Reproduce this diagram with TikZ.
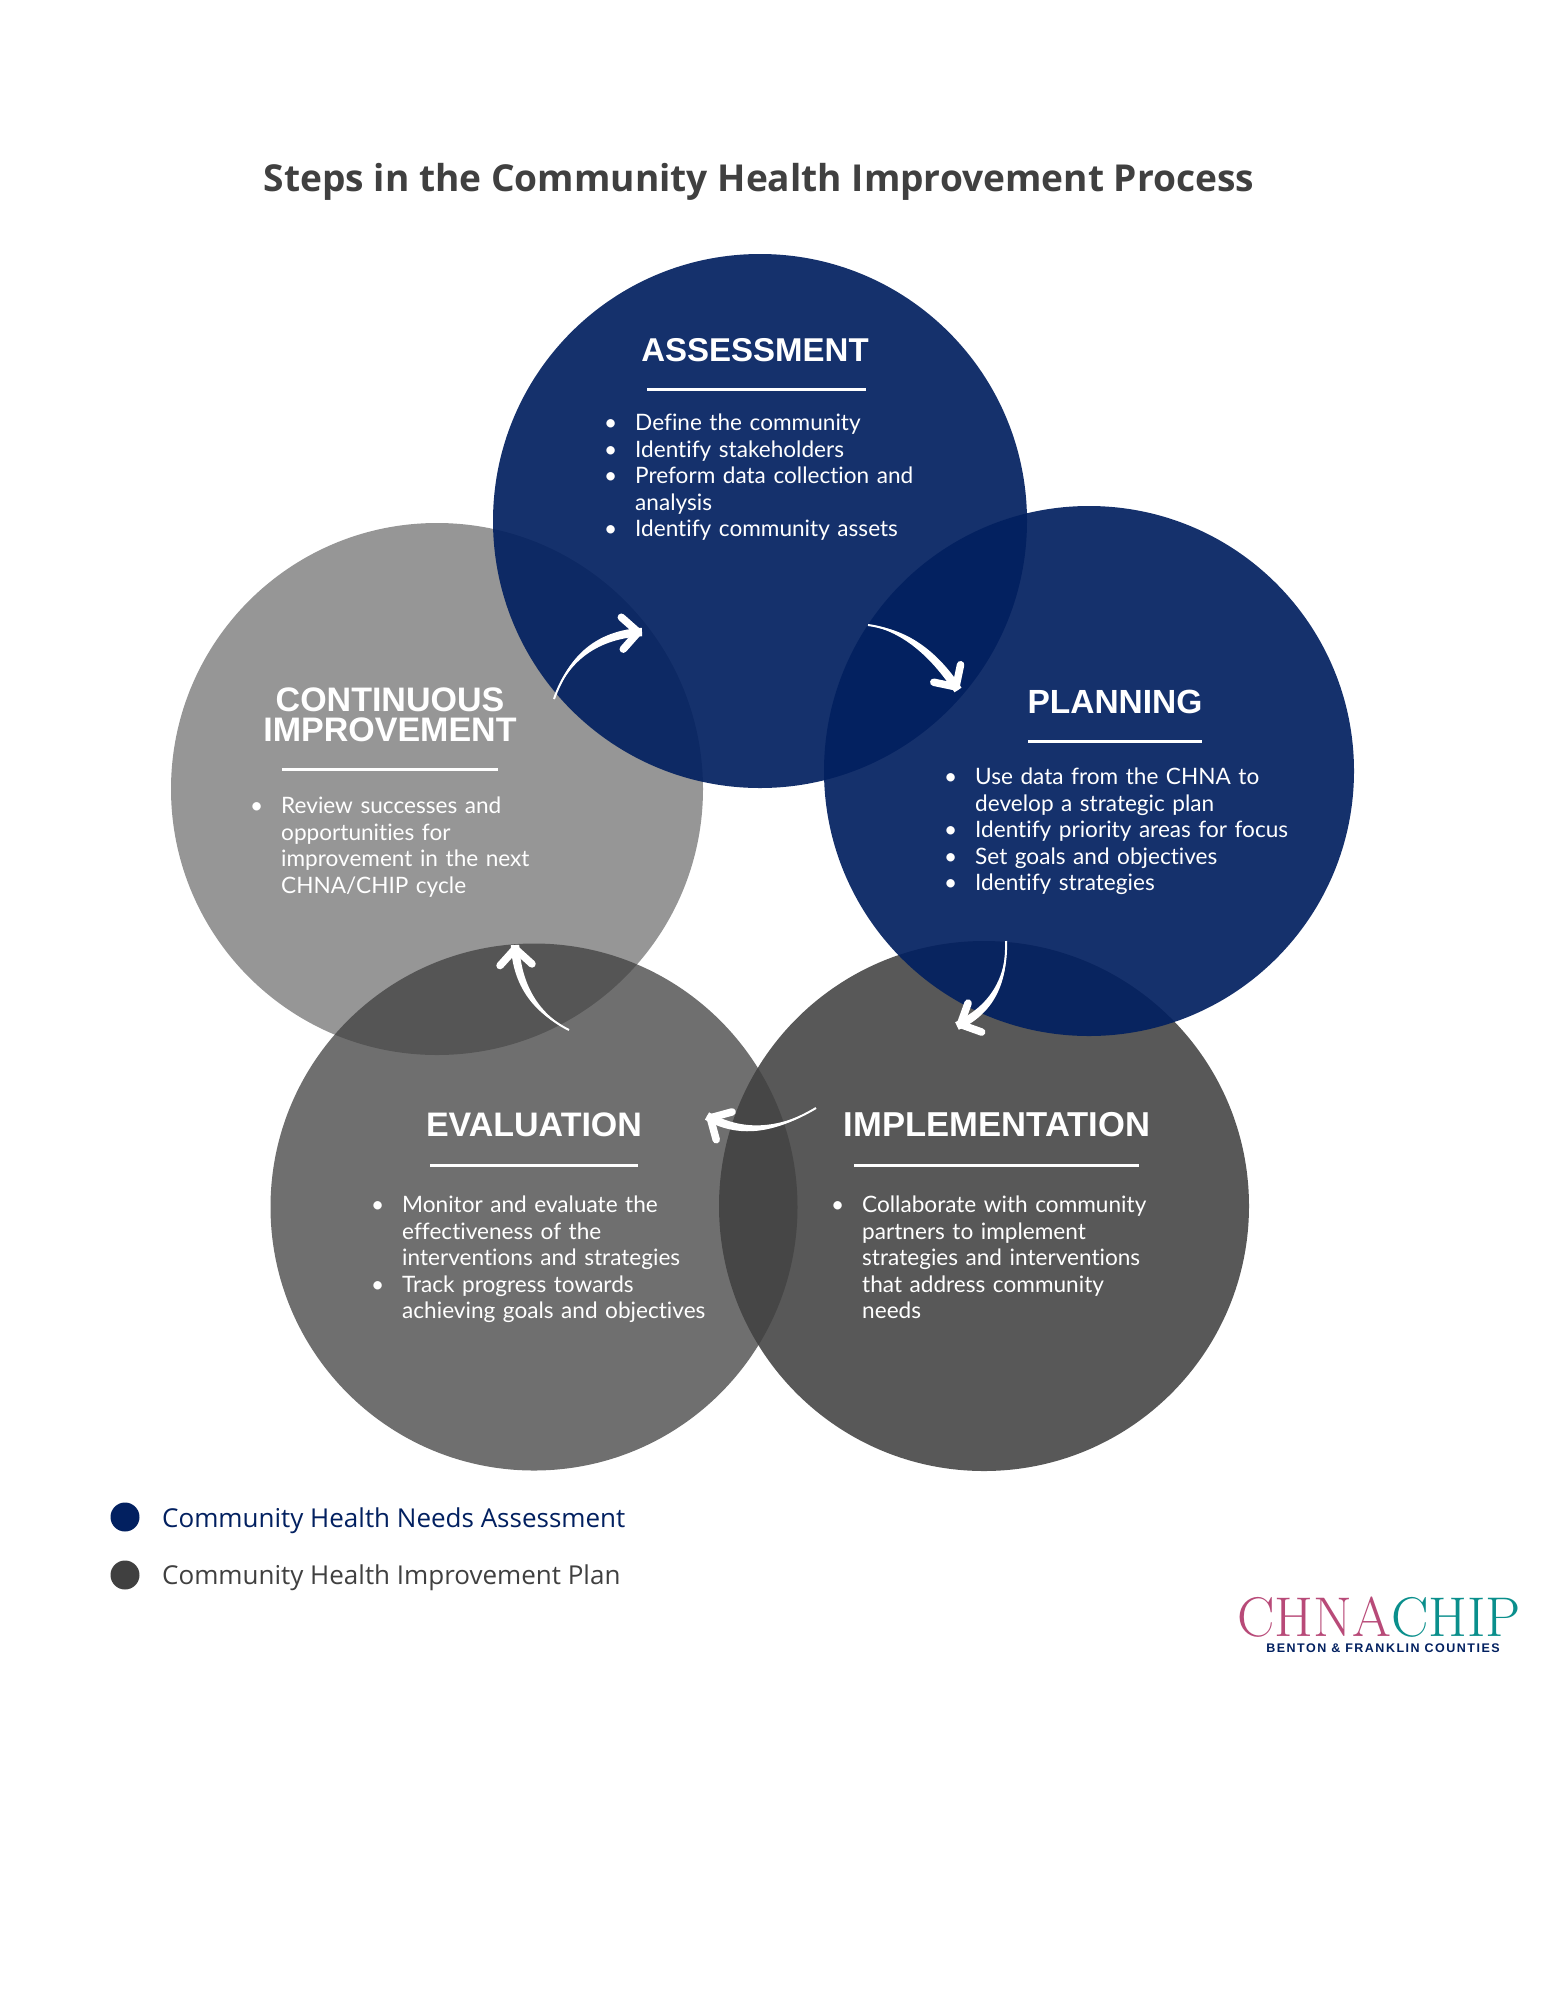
\documentclass[tikz,border=0pt]{standalone}
\usepackage{fontspec}
\setmainfont[Ligatures=NoCommon]{Lato}
\newfontfamily\titlefont{Open Sans}
\newfontfamily\headfont{Liberation Sans}
\newfontfamily\legendfont{Open Sans}
\newfontfamily\logofont{Latin Modern Roman}
\newfontfamily\logosubfont[LetterSpace=12]{Liberation Sans}
\usetikzlibrary{arrows.meta,calc}
\definecolor{chnaNavy}{RGB}{2,32,96}
\definecolor{chipGrey}{RGB}{64,64,64}
\definecolor{logoRose}{RGB}{184,74,120}
\definecolor{logoTeal}{RGB}{10,143,140}

%% bullet line and its continuation line
\newcommand{\stepitem}{\par\noindent\hbox to 31pt{\textbullet\hfil}}
\newcommand{\stepcont}{\par\noindent\hspace*{31pt}}

%% hand-drawn arrow: start, bend, end (the body swells towards the head)
\newcommand{\flowarrow}[3]{
  \coordinate (eL) at ($(#3)!4.2pt!90:(#2)$);
  \coordinate (eR) at ($(#3)!4.2pt!-90:(#2)$);
  \coordinate (cL) at ($(#2)!4.2pt!-90:(#3)$);
  \coordinate (cR) at ($(#2)!4.2pt!90:(#3)$);
  \fill[white] (#1) .. controls ($(#1)!.667!(cL)$) and ($(eL)!.667!(cL)$) .. (eL)
    -- (eR) .. controls ($(eR)!.667!(cR)$) and ($(#1)!.667!(cR)$) .. (#1) -- cycle;
  \draw[flowtip] (#1) .. controls ($(#1)!.667!(#2)$) and ($(#3)!.667!(#2)$) .. (#3);
}

\begin{document}
\begin{tikzpicture}[
  x=1pt, y=-1pt,
  stepcircle/.style={circle, inner sep=0pt, draw=none},
  stephead/.style={font=\headfont\bfseries\fontsize{#1}{30}\selectfont, white, align=center},
  stepbody/.style={font=\fontsize{22.6}{26.5}\selectfont, white, anchor=north west, align=left, inner sep=0pt, text width=420pt},
  steprule/.style={white, line width=3pt},
  flowtip/.style={white, line width=2pt, -{Straight Barb[round, line width=7.5pt, length=16pt, width=32pt]}},
  legenddot/.style={circle, inner sep=0pt, minimum size=29pt},
  legendtext/.style={font=\legendfont\fontsize{26}{30}\selectfont, anchor=west, inner sep=0pt},
]
\useasboundingbox (0,0) rectangle (1545,2000);
\fill[white] (0,0) rectangle (1545,2000);

%% -- title --
\node[font=\titlefont\bfseries\fontsize{37.1}{44}\selectfont, chipGrey] (title) at (759,182)
     {Steps in the Community Health Improvement Process};

%% -- circles (px of the page), grey ones first --
\node[stepcircle, minimum size=532pt, fill=chipGrey, fill opacity=.55] (improve) at (437,789) {};
\node[stepcircle, minimum size=530pt, fill=chipGrey, fill opacity=.87] (implement) at (984,1206) {};
\node[stepcircle, minimum size=527pt, fill=chipGrey, fill opacity=.75] (evaluate) at (534,1207) {};
\node[stepcircle, minimum size=534pt, fill=chnaNavy, fill opacity=.92] (assess) at (760,521) {};
\node[stepcircle, minimum size=530pt, fill=chnaNavy, fill opacity=.92] (plan) at (1089,771) {};

%% -- assessment --
\node[stephead=33] (assessH) at (755,350) {ASSESSMENT};
\draw[steprule] (647,389) -- (866,389);
\node[stepbody] (assessT) at (604,404) {%
  \stepitem Define the community
  \stepitem Identify stakeholders
  \stepitem Preform data collection and
  \stepcont analysis
  \stepitem Identify community assets};

%% -- planning --
\node[stephead=33.5] (planH) at (1115,702) {PLANNING};
\draw[steprule] (1028,741) -- (1202,741);
\node[stepbody] (planT) at (944,758) {%
  \stepitem Use data from the CHNA to
  \stepcont develop a strategic plan
  \stepitem Identify priority areas for focus
  \stepitem Set goals and objectives
  \stepitem Identify strategies};

%% -- implementation --
\node[stephead=34.6] (implementH) at (997,1125) {IMPLEMENTATION};
\draw[steprule] (854,1165) -- (1139,1165);
\node[stepbody] (implementT) at (831,1186) {%
  \stepitem Collaborate with community
  \stepcont partners to implement
  \stepcont strategies and interventions
  \stepcont that address community
  \stepcont needs};

%% -- evaluation --
\node[stephead=34] (evaluateH) at (534,1125) {EVALUATION};
\draw[steprule] (430,1165) -- (638,1165);
\node[stepbody] (evaluateT) at (371,1186) {%
  \stepitem Monitor and evaluate the
  \stepcont effectiveness of the
  \stepcont interventions and strategies
  \stepitem Track progress towards
  \stepcont achieving goals and objectives};

%% -- continuous improvement --
\node[stephead=34] (improveH) at (390,715) {CONTINUOUS\\IMPROVEMENT};
\draw[steprule] (282,769) -- (498,769);
\node[stepbody] (improveT) at (250,787) {%
  \stepitem Review successes and
  \stepcont opportunities for
  \stepcont improvement in the next
  \stepcont CHNA/CHIP cycle};

%% -- arrows between the steps --
\coordinate (a1) at (554,699); \coordinate (a0) at (576,636); \coordinate (a2) at (642,632);
\coordinate (b1) at (868,625); \coordinate (b0) at (920,632); \coordinate (b2) at (958,690);
\coordinate (c1) at (1006,941); \coordinate (c0) at (1008,1002); \coordinate (c2) at (957,1026);
\coordinate (d1) at (816,1108); \coordinate (d0) at (756,1144); \coordinate (d2) at (707,1116);
\coordinate (e1) at (569,1030); \coordinate (e0) at (518,1004); \coordinate (e2) at (515,945);
\flowarrow{a1}{a0}{a2}
\flowarrow{b1}{b0}{b2}
\flowarrow{c1}{c0}{c2}
\flowarrow{d1}{d0}{d2}
\flowarrow{e1}{e0}{e2}

%% -- legend --
\node[legenddot, fill=chnaNavy] (dotA) at (125,1517) {};
\node[legendtext, chnaNavy] (legA) at (162,1521) {Community Health Needs Assessment};
\node[legenddot, fill=chipGrey] (dotB) at (125,1575) {};
\node[legendtext, chipGrey] (legB) at (162,1578) {Community Health Improvement Plan};

%% -- logo --
\node[font=\logofont\fontsize{56}{56}\selectfont, inner sep=0pt, anchor=base west, text depth=0pt] (logo) at (1237,1636)
     {\textcolor{logoRose}{CHNA}\textcolor{logoTeal}{CHIP}};
\node[font=\logosubfont\bfseries\fontsize{12.5}{14}\selectfont, chnaNavy, inner sep=0pt] (logoSub) at (1383,1648)
     {BENTON \& FRANKLIN COUNTIES};
\end{tikzpicture}
\end{document}
